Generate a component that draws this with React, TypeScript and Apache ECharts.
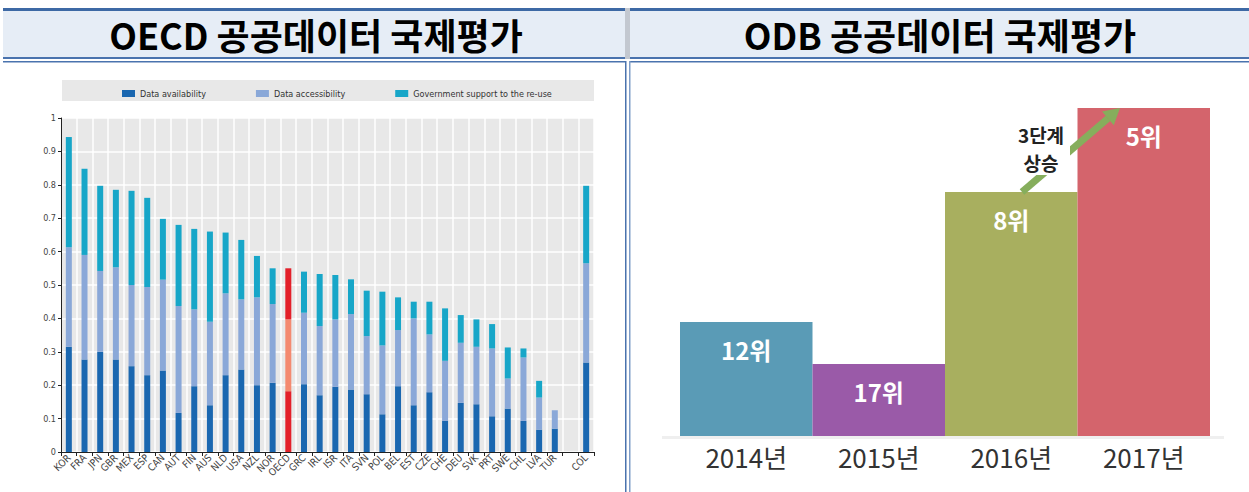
import React, { useEffect, useRef } from "react";
import * as echarts from "echarts";

// ---- Left chart: OECD OURdata index ----
const countries = [
  "KOR", "FRA", "JPN", "GBR", "MEX", "ESP", "CAN", "AUT", "FIN", "AUS", "NLD", "USA",
  "NZL", "NOR", "OECD", "GRC", "IRL", "ISR", "ITA", "SVN", "POL", "BEL", "EST", "CZE",
  "CHE", "DEU", "SVK", "PRT", "SWE", "CHL", "LVA", "TUR", "", "COL",
];
const dataAvailability = [
  0.315, 0.277, 0.3, 0.277, 0.257, 0.23, 0.244, 0.117, 0.197, 0.14, 0.23, 0.247,
  0.2, 0.207, 0.182, 0.203, 0.17, 0.195, 0.187, 0.173, 0.113, 0.197, 0.14, 0.179,
  0.093, 0.147, 0.143, 0.107, 0.13, 0.093, 0.067, 0.07, null, 0.268,
];
const dataAccessibility = [
  0.298, 0.313, 0.242, 0.276, 0.243, 0.264, 0.272, 0.32, 0.23, 0.25, 0.245, 0.21,
  0.263, 0.236, 0.215, 0.214, 0.207, 0.202, 0.226, 0.174, 0.206, 0.168, 0.26, 0.173,
  0.18, 0.18, 0.172, 0.203, 0.09, 0.19, 0.096, 0.055, null, 0.297,
];
const governmentSupport = [
  0.33, 0.258, 0.255, 0.232, 0.282, 0.267, 0.182, 0.243, 0.241, 0.27, 0.182, 0.178,
  0.124, 0.107, 0.153, 0.123, 0.156, 0.133, 0.104, 0.136, 0.161, 0.098, 0.05, 0.098,
  0.157, 0.083, 0.082, 0.073, 0.093, 0.027, 0.05, 0, null, 0.232,
];
const seriesNames = ["Data availability", "Data accessibility", "Government support to the re-use"];
const highlightCountry = "OECD";

// ---- Right chart: ODB ranking ----
const years = ["2014년", "2015년", "2016년", "2017년"];
const odbRanks = [12, 17, 8, 5];
const odbBarHeights = [114, 72, 244, 328];

const NARROW = "'Liberation Sans Narrow', 'DejaVu Sans Condensed', 'Liberation Sans', sans-serif";
const KR = "'Noto Sans CJK KR', 'Noto Sans', sans-serif";

const C_AVAIL = "#1A67B0";
const C_ACCESS = "#8AA8D8";
const C_GOV = "#17A6C8";
const C_RED = "#E3202A";
const C_SALMON = "#F48A70";
const odbColors = ["#5A9BB6", "#9A5AA8", "#A8AF5F", "#D4646C"];

function mark(vals: (number | null)[], hi: string) {
  return vals.map((v, i) =>
    countries[i] === highlightCountry ? { value: v, itemStyle: { color: hi } } : v
  );
}

export default function App() {
  const ref = useRef<HTMLDivElement>(null);
  useEffect(() => {
    if (!ref.current) return;
    const chart = echarts.init(ref.current, undefined, { renderer: "svg" });
    const blue = "#4A73AE";
    const option: any = {
      animation: false,
      textStyle: { fontFamily: NARROW },
      legend: {
        data: seriesNames,
        left: 117,
        top: 84,
        icon: "rect",
        itemWidth: 13,
        itemHeight: 7,
        itemGap: 50,
        textStyle: { fontSize: 9, color: "#333", fontFamily: NARROW },
      },
      grid: [
        {
          left: 61, top: 118, width: 533, height: 334,
          show: true, backgroundColor: "#E8E8E8", borderWidth: 0,
        },
        { left: 680, top: 108, width: 530, height: 328 },
      ],
      xAxis: [
        {
          type: "category",
          gridIndex: 0,
          data: countries,
          axisLine: { lineStyle: { color: "#222", width: 1 } },
          axisTick: { show: true, length: 4, lineStyle: { color: "#222" } },
          splitLine: { show: true, interval: 0, lineStyle: { color: "#fff", width: 1.5 } },
          axisLabel: { rotate: 45, fontSize: 10, color: "#444", margin: 4, interval: 0, fontFamily: NARROW },
        },
        {
          type: "category",
          gridIndex: 1,
          data: years,
          axisLine: { show: false },
          axisTick: { show: false },
          axisLabel: { fontSize: 26, color: "#333", margin: 7, fontFamily: KR },
        },
      ],
      yAxis: [
        {
          type: "value",
          gridIndex: 0,
          min: 0,
          max: 1,
          interval: 0.1,
          axisLine: { show: true, lineStyle: { color: "#222" } },
          axisTick: { show: true, length: 3, lineStyle: { color: "#222" } },
          splitLine: { show: true, lineStyle: { color: "#fff", width: 1.5 } },
          axisLabel: {
            fontSize: 9, color: "#444", margin: 5, fontFamily: NARROW,
            formatter: (v: number) => (v === 0 || v === 1 ? String(v) : v.toFixed(1)),
          },
        },
        { type: "value", gridIndex: 1, min: 0, max: 328, show: false },
      ],
      series: [
        {
          name: seriesNames[0], type: "bar", stack: "oecd", xAxisIndex: 0, yAxisIndex: 0,
          barWidth: 6, itemStyle: { color: C_AVAIL }, data: mark(dataAvailability, C_RED),
        },
        {
          name: seriesNames[1], type: "bar", stack: "oecd", xAxisIndex: 0, yAxisIndex: 0,
          barWidth: 6, itemStyle: { color: C_ACCESS }, data: mark(dataAccessibility, C_SALMON),
        },
        {
          name: seriesNames[2], type: "bar", stack: "oecd", xAxisIndex: 0, yAxisIndex: 0,
          barWidth: 6, itemStyle: { color: C_GOV }, data: mark(governmentSupport, C_RED),
        },
        {
          name: "ODB", type: "bar", xAxisIndex: 1, yAxisIndex: 1,
          barCategoryGap: "0%",
          data: odbBarHeights.map((h, i) => ({
            value: h,
            itemStyle: { color: odbColors[i] },
            label: { formatter: `${odbRanks[i]}위` },
          })),
          label: {
            show: true, position: "insideTop", distance: 15, color: "#fff",
            fontSize: 24, fontWeight: "bold", fontFamily: KR,
          },
        },
      ],
      graphic: [
        // header rows
        { type: "rect", shape: { x: 3, y: 8, width: 622, height: 3 }, style: { fill: "#3D69A5" } },
        { type: "rect", shape: { x: 630, y: 8, width: 619, height: 3 }, style: { fill: "#3D69A5" } },
        { type: "rect", shape: { x: 3, y: 11, width: 622, height: 46 }, style: { fill: "#E6EDF6" } },
        { type: "rect", shape: { x: 630, y: 11, width: 619, height: 46 }, style: { fill: "#E6EDF6" } },
        { type: "rect", shape: { x: 625, y: 8, width: 5, height: 51 }, style: { fill: "#C3C8D0" } },
        { type: "rect", shape: { x: 3, y: 57, width: 622, height: 2 }, style: { fill: blue } },
        { type: "rect", shape: { x: 630, y: 57, width: 619, height: 2 }, style: { fill: blue } },
        { type: "rect", shape: { x: 3, y: 61, width: 623, height: 1.5 }, style: { fill: blue } },
        { type: "rect", shape: { x: 629, y: 61, width: 620, height: 1.5 }, style: { fill: blue } },
        { type: "rect", shape: { x: 625, y: 61, width: 1.5, height: 431 }, style: { fill: blue } },
        { type: "rect", shape: { x: 629, y: 61, width: 1.5, height: 431 }, style: { fill: "#7F9DC8" } },
        {
          type: "text", x: 316, y: 34,
          style: {
            text: "OECD 공공데이터 국제평가", fontSize: 36, fontWeight: "bold",
            fontFamily: KR, fill: "#000", align: "center", verticalAlign: "middle",
          },
        },
        {
          type: "text", x: 940, y: 34,
          style: {
            text: "ODB 공공데이터 국제평가", fontSize: 36, fontWeight: "bold",
            fontFamily: KR, fill: "#000", align: "center", verticalAlign: "middle",
          },
        },
        // legend background
        { type: "rect", z: -1, shape: { x: 62, y: 80, width: 532, height: 21 }, style: { fill: "#E8E8E8" } },
        // faint ground shadow for ODB chart
        { type: "rect", shape: { x: 662, y: 436, width: 562, height: 3 }, style: { fill: "#EFEFEF" } },
        // arrow
        {
          type: "line", z: 100,
          shape: { x1: 1022, y1: 192, x2: 1108, y2: 118.4 },
          style: { stroke: "#86AE5C", lineWidth: 7 },
        },
        {
          type: "polygon", z: 100,
          shape: { points: [[1120, 108], [1113.8, 125.2], [1102, 111.6]] },
          style: { fill: "#86AE5C" },
        },
        // white box hiding the arrow behind the annotation
        { type: "rect", z: 101, shape: { x: 1012, y: 121, width: 58, height: 54 }, style: { fill: "#fff" } },
        {
          type: "text", z: 102, x: 1041, y: 134,
          style: {
            text: "3단계", fontSize: 19, fontWeight: "bold",
            fontFamily: KR, fill: "#222", align: "center", verticalAlign: "middle",
          },
        },
        {
          type: "text", z: 102, x: 1041, y: 162,
          style: {
            text: "상승", fontSize: 19, fontWeight: "bold",
            fontFamily: KR, fill: "#222", align: "center", verticalAlign: "middle",
          },
        },
      ],
    };
    chart.setOption(option);
    return () => chart.dispose();
  }, []);
  return (
    <div
      ref={ref}
      style={{ position: "absolute", left: 0, top: 0, width: 1249, height: 492, background: "#fff" }}
    />
  );
}
